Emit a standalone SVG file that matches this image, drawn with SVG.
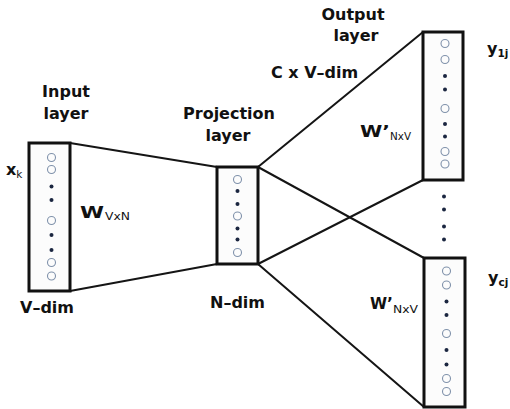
<svg xmlns="http://www.w3.org/2000/svg" width="510" height="409" viewBox="0 0 510 409">
  <defs>
    <style>
      .box { fill: #fcfcfc; stroke: #111; stroke-width: 3; }
      .edge { stroke: #151515; stroke-width: 2; fill: none; stroke-linecap: round; }
      .unit { fill: none; stroke: #8092ab; stroke-width: 1.1; }
      .dot { fill: #1b2640; }
      .t { font-family: "DejaVu Sans", "Liberation Sans", sans-serif; font-weight: bold; font-size: 16px; fill: #111; }
      .sub { font-family: "DejaVu Sans", "Liberation Sans", sans-serif; font-size: 10.5px; fill: #111; }
      .mid { text-anchor: middle; }
    </style>
  </defs>

  <!-- weight connections -->
  <g id="connectors">
    <line class="edge" x1="70" y1="143" x2="217" y2="167"/>
    <line class="edge" x1="70" y1="291" x2="217" y2="264"/>
    <line class="edge" x1="258" y1="167" x2="423" y2="32"/>
    <line class="edge" x1="258" y1="167" x2="424" y2="258"/>
    <line class="edge" x1="258" y1="264" x2="423" y2="180"/>
    <line class="edge" x1="258" y1="264" x2="424" y2="407"/>
  </g>

  <!-- input layer -->
  <g id="input-layer">
    <text class="t mid" x="66" y="97">Input</text>
    <text class="t mid" x="66" y="119">layer</text>
    <rect class="box" x="29" y="143" width="41" height="148"/>
    <circle class="unit" cx="51.5" cy="157.5" r="4"/>
    <circle class="unit" cx="51.5" cy="169.5" r="4"/>
    <circle class="dot" cx="51.5" cy="186.5" r="2"/>
    <circle class="dot" cx="51.5" cy="200" r="2"/>
    <circle class="unit" cx="51.5" cy="220.5" r="4"/>
    <circle class="dot" cx="51.5" cy="235" r="2"/>
    <circle class="dot" cx="51.5" cy="250" r="2"/>
    <circle class="unit" cx="51.5" cy="262.5" r="4"/>
    <circle class="unit" cx="51.5" cy="276" r="4"/>
    <text class="t" x="6" y="175">x<tspan class="sub" font-weight="normal" font-size="11px" dy="3">k</tspan></text>
    <text class="t" x="20" y="313">V–dim</text>
  </g>

  <!-- input-to-projection weights label -->
  <g id="w-in">
    <text class="t" x="80" y="218" font-size="18px" textLength="24" lengthAdjust="spacingAndGlyphs">W</text>
    <text class="sub" x="105" y="220" textLength="25" lengthAdjust="spacingAndGlyphs">VxN</text>
  </g>

  <!-- projection layer -->
  <g id="projection-layer">
    <text class="t mid" x="229" y="119">Projection</text>
    <text class="t mid" x="228" y="141">layer</text>
    <rect class="box" x="217" y="167" width="41" height="97"/>
    <circle class="unit" cx="237.5" cy="179.5" r="4"/>
    <circle class="dot" cx="237.5" cy="191" r="2"/>
    <circle class="dot" cx="237.5" cy="204" r="2"/>
    <circle class="unit" cx="237.5" cy="216" r="4"/>
    <circle class="dot" cx="237.5" cy="228.5" r="2"/>
    <circle class="dot" cx="237.5" cy="239.5" r="2"/>
    <circle class="unit" cx="237.5" cy="252.5" r="4"/>
    <text class="t" x="210" y="308">N–dim</text>
  </g>

  <!-- output layer, first context word -->
  <g id="output-1">
    <text class="t mid" x="353" y="20">Output</text>
    <text class="t mid" x="356" y="41">layer</text>
    <text class="t" x="271" y="78">C x V–dim</text>
    <rect class="box" x="423" y="32" width="40" height="148"/>
    <circle class="unit" cx="445" cy="43.5" r="4"/>
    <circle class="unit" cx="445" cy="59.5" r="4"/>
    <circle class="dot" cx="445" cy="76" r="2"/>
    <circle class="dot" cx="445" cy="89.5" r="2"/>
    <circle class="unit" cx="445" cy="108.5" r="4"/>
    <circle class="dot" cx="445" cy="124" r="2"/>
    <circle class="dot" cx="445" cy="136.5" r="2"/>
    <circle class="unit" cx="445" cy="151.5" r="4"/>
    <circle class="unit" cx="445" cy="164" r="4"/>
    <text class="t" x="360" y="137" font-size="18px" textLength="30" lengthAdjust="spacingAndGlyphs">W’</text>
    <text class="sub" x="390" y="140" textLength="21" lengthAdjust="spacingAndGlyphs">NxV</text>
    <text class="t" x="487" y="54">y<tspan class="sub" font-size="10px" dy="3">1j</tspan></text>
  </g>

  <!-- ellipsis between output panels -->
  <g id="ellipsis">
    <circle class="dot" cx="444" cy="196.5" r="2"/>
    <circle class="dot" cx="444" cy="209.5" r="2"/>
    <circle class="dot" cx="444" cy="226.5" r="2"/>
    <circle class="dot" cx="444" cy="239.5" r="2"/>
  </g>

  <!-- output layer, C-th context word -->
  <g id="output-c">
    <rect class="box" x="424" y="258" width="41" height="149"/>
    <circle class="unit" cx="446.5" cy="271" r="4"/>
    <circle class="unit" cx="446.5" cy="285" r="4"/>
    <circle class="dot" cx="446.5" cy="301.5" r="2"/>
    <circle class="dot" cx="446.5" cy="315" r="2"/>
    <circle class="unit" cx="446.5" cy="333.5" r="4"/>
    <circle class="dot" cx="446.5" cy="350" r="2"/>
    <circle class="dot" cx="446.5" cy="364.5" r="2"/>
    <circle class="unit" cx="446.5" cy="378.5" r="4"/>
    <circle class="unit" cx="446.5" cy="391.5" r="4"/>
    <text class="t" x="370" y="309" font-size="18px" textLength="23" lengthAdjust="spacingAndGlyphs">W’</text>
    <text class="sub" x="393" y="313" textLength="25" lengthAdjust="spacingAndGlyphs">NxV</text>
    <text class="t" x="488" y="283">y<tspan class="sub" font-size="10px" dy="3">cj</tspan></text>
  </g>
</svg>
